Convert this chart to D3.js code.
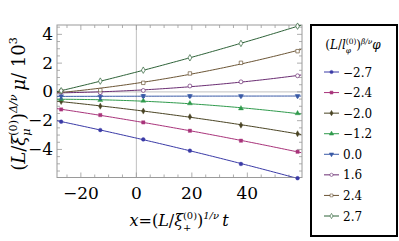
<!DOCTYPE html>
<html>
<head>
<meta charset="utf-8">
<script src="https://cdn.jsdelivr.net/npm/d3@7"></script>
<style>
body{margin:0;background:#fff;}
</style>
</head>
<body>
<div id="chart"></div>
<script>
/* data */
var xValues = [-27.1, -13.0, 2.5, 19.3, 37.7, 58.1];
var phiLabels = ["\u22122.7", "\u22122.4", "\u22122.0", "\u22121.2", "0.0", "1.6", "2.4", "2.7"];
var muM27 = [-2.07, -2.65, -3.30, -4.09, -5.01, -6.00];
var muM24 = [-1.22, -1.61, -2.12, -2.70, -3.39, -4.16];
var muM20 = [-0.67, -0.99, -1.33, -1.73, -2.31, -2.91];
var muM12 = [-0.51, -0.57, -0.62, -0.80, -1.15, -1.49];
var mu00  = [-0.30, -0.33, -0.29, -0.29, -0.29, -0.29];
var mu16  = [-0.02, -0.05, 0.10, 0.41, 0.70, 1.12];
var mu24  = [0.06, 0.12, 0.63, 1.28, 2.02, 2.83];
var mu27  = [0.08, 0.75, 1.51, 2.37, 3.37, 4.57];
var err00 = [0.2, 0.2, 0.1, 0.08, 0.06, 0.06];
var xTicks = [-20, 0, 20, 40];
var yTicks = [4, 2, 0, -2, -4];

var seriesList = [
	{label: phiLabels[0], values: muM27, color: "#3a3aa6", shape: "circle", fill: true},
	{label: phiLabels[1], values: muM24, color: "#a8337a", shape: "square", fill: true},
	{label: phiLabels[2], values: muM20, color: "#4a4424", shape: "diamond", fill: true},
	{label: phiLabels[3], values: muM12, color: "#2f9a4c", shape: "triangle", fill: true},
	{label: phiLabels[4], values: mu00,  color: "#3a5aa6", shape: "triangledown", fill: true, err: err00},
	{label: phiLabels[5], values: mu16,  color: "#6a2d72", shape: "circle", fill: false},
	{label: phiLabels[6], values: mu24,  color: "#6b5535", shape: "square", fill: false},
	{label: phiLabels[7], values: mu27,  color: "#2e6238", shape: "diamond", fill: false}
];

var W = 399, H = 241;
var pLeft = 57, pRight = 302, pTop = 25, pBottom = 177.5;
var serif = "DejaVu Serif";

var svg = d3.select("#chart").append("svg")
	.attr("width", W).attr("height", H)
	.attr("font-family", serif);

var x = d3.scaleLinear().domain([-28.6, 59.7]).range([pLeft, pRight]);
var y = d3.scaleLinear().domain([-5.95, 4.65]).range([pBottom, pTop]);

var frameColor = "#9a9a9a";

//axes lines at zero
svg.append("line").attr("x1", x(0)).attr("x2", x(0)).attr("y1", pTop).attr("y2", pBottom)
	.attr("stroke", "#c0c0c0").attr("stroke-width", 1);
svg.append("line").attr("x1", pLeft).attr("x2", pRight).attr("y1", y(0)).attr("y2", y(0))
	.attr("stroke", "#c0c0c0").attr("stroke-width", 1);

//frame ticks, mirrored on all sides
var xMinor = d3.range(-25, 60, 5).filter(function(d){ return d % 20 != 0; });
var yMinor = d3.range(-5.5, 4.6, 0.5).filter(function(d){ return Math.abs(d % 2) > 0.01; });

var ticks = svg.append("g").attr("stroke", frameColor).attr("stroke-width", 0.8);
xTicks.forEach(function(d){
	ticks.append("line").attr("x1", x(d)).attr("x2", x(d)).attr("y1", pBottom).attr("y2", pBottom - 5);
	ticks.append("line").attr("x1", x(d)).attr("x2", x(d)).attr("y1", pTop).attr("y2", pTop + 5);
});
xMinor.forEach(function(d){
	ticks.append("line").attr("x1", x(d)).attr("x2", x(d)).attr("y1", pBottom).attr("y2", pBottom - 3);
	ticks.append("line").attr("x1", x(d)).attr("x2", x(d)).attr("y1", pTop).attr("y2", pTop + 3);
});
yTicks.forEach(function(d){
	ticks.append("line").attr("x1", pLeft).attr("x2", pLeft + 5).attr("y1", y(d)).attr("y2", y(d));
	ticks.append("line").attr("x1", pRight).attr("x2", pRight - 5).attr("y1", y(d)).attr("y2", y(d));
});
yMinor.forEach(function(d){
	ticks.append("line").attr("x1", pLeft).attr("x2", pLeft + 3).attr("y1", y(d)).attr("y2", y(d));
	ticks.append("line").attr("x1", pRight).attr("x2", pRight - 3).attr("y1", y(d)).attr("y2", y(d));
});

svg.append("rect").attr("x", pLeft).attr("y", pTop)
	.attr("width", pRight - pLeft).attr("height", pBottom - pTop)
	.attr("fill", "none").attr("stroke", frameColor).attr("stroke-width", 1);

var fmt = function(d){ return d < 0 ? "\u2212" + Math.abs(d) : String(d); };

//tick labels
svg.selectAll("text.xt").data(xTicks).enter().append("text")
	.attr("class", "xt")
	.attr("x", function(d){ return x(d); })
	.attr("y", 199)
	.attr("text-anchor", "middle")
	.attr("font-family", serif)
	.attr("font-size", 17)
	.text(fmt);

svg.selectAll("text.yt").data(yTicks).enter().append("text")
	.attr("class", "yt")
	.attr("x", 53)
	.attr("y", function(d){ return y(d) + 5.5; })
	.attr("text-anchor", "end")
	.attr("font-family", serif)
	.attr("font-size", 17)
	.text(fmt);

//quadratic least squares fit
var fitQuad = function(xs, ys){
	var n = xs.length, s = [0,0,0,0,0], t = [0,0,0];
	for (var i = 0; i < n; i++){
		var p = 1;
		for (var k = 0; k < 5; k++){ s[k] += p; if (k < 3) t[k] += p * ys[i]; p *= xs[i]; }
	}
	var A = [[s[0], s[1], s[2], t[0]], [s[1], s[2], s[3], t[1]], [s[2], s[3], s[4], t[2]]];
	for (var c = 0; c < 3; c++){
		for (var r = c + 1; r < 3; r++){
			var f = A[r][c] / A[c][c];
			for (var j = c; j < 4; j++) A[r][j] -= f * A[c][j];
		}
	}
	var b = [0,0,0];
	for (var r2 = 2; r2 >= 0; r2--){
		var v = A[r2][3];
		for (var j2 = r2 + 1; j2 < 3; j2++) v -= A[r2][j2] * b[j2];
		b[r2] = v / A[r2][r2];
	}
	return function(xx){ return b[0] + b[1] * xx + b[2] * xx * xx; };
}

svg.append("clipPath").attr("id", "plotclip").append("rect")
	.attr("x", pLeft).attr("y", pTop).attr("width", pRight - pLeft).attr("height", pBottom - pTop);

var plot = svg.append("g").attr("clip-path", "url(#plotclip)");
var line = d3.line().x(function(d){ return x(d[0]); }).y(function(d){ return y(d[1]); });
var xs = d3.range(-28.6, 59.8, 1);

var symbolFor = function(shape, size){
	var types = {circle: d3.symbolCircle, square: d3.symbolSquare, diamond: d3.symbolDiamond,
		triangle: d3.symbolTriangle, triangledown: d3.symbolTriangle};
	return d3.symbol().type(types[shape]).size(size)();
}

seriesList.forEach(function(s){
	var f = fitQuad(xValues, s.values);
	plot.append("path")
		.attr("d", line(xs.map(function(xx){ return [xx, f(xx)]; })))
		.attr("fill", "none").attr("stroke", s.color).attr("stroke-width", 1);
});

var gs = svg.append("g");
seriesList.forEach(function(s){
	if (s.err){
		s.values.forEach(function(v, i){
			var e = s.err[i];
			gs.append("line").attr("x1", x(xValues[i])).attr("x2", x(xValues[i]))
				.attr("y1", y(v - e)).attr("y2", y(v + e)).attr("stroke", s.color).attr("stroke-width", 1);
			[v - e, v + e].forEach(function(w){
				gs.append("line").attr("x1", x(xValues[i]) - 1.5).attr("x2", x(xValues[i]) + 1.5)
					.attr("y1", y(w)).attr("y2", y(w)).attr("stroke", s.color).attr("stroke-width", 1);
			});
		});
	}
	gs.selectAll(null).data(s.values).enter().append("path")
		.attr("d", symbolFor(s.shape, s.fill ? 11 : 12))
		.attr("transform", function(d, i){
			return "translate(" + x(xValues[i]) + "," + y(d) + ")" + (s.shape == "triangledown" ? " rotate(180)" : "");
		})
		.attr("fill", s.fill ? s.color : "#fff")
		.attr("stroke", s.color)
		.attr("stroke-width", s.fill ? 0.4 : 0.7);
});

//rich text helper: parts {t, it, sz, dy, stack}
var richText = function(g, parts, size){
	var cx = 0, stackW = 0;
	parts.forEach(function(p){
		var fs = size * (p.sz || 1);
		var el = g.append("text")
			.attr("x", cx).attr("y", (p.dy || 0) * size)
			.attr("font-family", serif)
			.attr("font-size", fs)
			.attr("font-style", p.it ? "italic" : "normal")
			.text(p.t);
		var w = el.node().getComputedTextLength();
		if (p.stack){
			stackW = Math.max(stackW, w);
		} else {
			cx += Math.max(w, stackW);
			stackW = 0;
		}
	});
	return cx;
}

//y label
var yl = svg.append("g");
var ylw = richText(yl, [
	{t: "("}, {t: "L", it: true}, {t: "/"}, {t: "\u03be", it: true},
	{t: "(0)", sz: 0.62, dy: -0.42, stack: true}, {t: "\u03bc", it: true, sz: 0.62, dy: 0.3},
	{t: ")"}, {t: "\u0394/\u03bd", it: true, sz: 0.62, dy: -0.45},
	{t: "\u2009\u03bc", it: true}, {t: " / 10"}, {t: "3", sz: 0.62, dy: -0.45}
], 18);
yl.attr("transform", "translate(25," + (104 + ylw / 2) + ") rotate(-90)");

//x label
var xl = svg.append("g");
var xlw = richText(xl, [
	{t: "x", it: true}, {t: "=("}, {t: "L", it: true}, {t: "/"}, {t: "\u03be", it: true},
	{t: "(0)", sz: 0.62, dy: -0.42, stack: true}, {t: "+", sz: 0.62, dy: 0.3},
	{t: ")"}, {t: "1/\u03bd", it: true, sz: 0.62, dy: -0.45},
	{t: "\u2009t", it: true}
], 16);
xl.attr("transform", "translate(" + (179 - xlw / 2) + ",226)");

//legend
var lg = svg.append("g");
lg.append("rect").attr("x", 311).attr("y", 25).attr("width", 86).attr("height", 211)
	.attr("fill", "#fff").attr("stroke", "#000").attr("stroke-width", 2);
var lt = lg.append("g");
var ltw = richText(lt, [
	{t: "("}, {t: "L", it: true}, {t: "/"}, {t: "l", it: true},
	{t: "(0)", sz: 0.62, dy: -0.45, stack: true}, {t: "\u03c6", it: true, sz: 0.62, dy: 0.3},
	{t: ")"}, {t: "\u03b2/\u03bd", it: true, sz: 0.62, dy: -0.45},
	{t: "\u03c6", it: true}
], 12);
lt.attr("transform", "translate(" + (353 - ltw / 2) + ",49)");

var legendY = d3.scalePoint().domain(phiLabels).range([72, 216]);
seriesList.forEach(function(s){
	var ly = legendY(s.label);
	lg.append("line").attr("x1", 324).attr("x2", 339).attr("y1", ly).attr("y2", ly)
		.attr("stroke", s.color).attr("stroke-width", 1);
	lg.append("path").attr("d", symbolFor(s.shape, s.fill ? 8 : 8))
		.attr("transform", "translate(331.5," + ly + ")" + (s.shape == "triangledown" ? " rotate(180)" : ""))
		.attr("fill", s.fill ? s.color : "#fff").attr("stroke", s.color).attr("stroke-width", 0.6);
	lg.append("text").attr("x", 343).attr("y", ly + 4.5)
		.attr("font-family", serif).attr("font-size", 12).text(s.label);
});
</script>
</body>
</html>
